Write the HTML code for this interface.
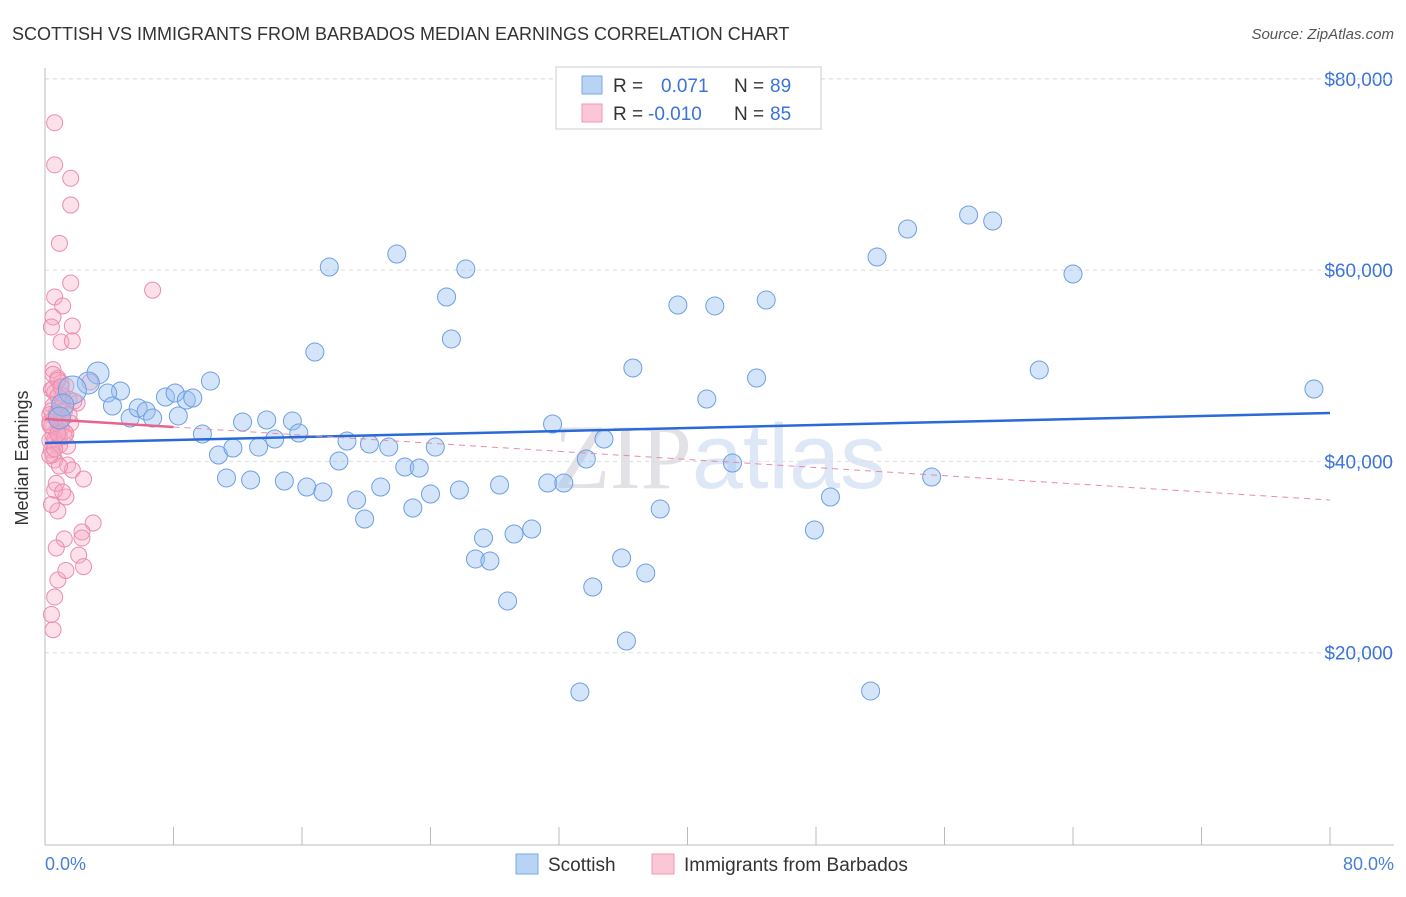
<!DOCTYPE html>
<html><head><meta charset="utf-8"><style>
body{margin:0;background:#fff;font-family:"Liberation Sans",sans-serif;}
svg text{font-family:"Liberation Sans",sans-serif;}
</style></head><body>
<svg id="chart" width="1406" height="892" viewBox="0 0 1406 892">
<text x="12" y="40" font-size="18" fill="#333">SCOTTISH VS IMMIGRANTS FROM BARBADOS MEDIAN EARNINGS CORRELATION CHART</text>
<text x="1394" y="39" font-size="15" fill="#555" font-style="italic" text-anchor="end">Source: ZipAtlas.com</text>
<text x="720" y="488" font-size="92" fill="#e8e8ec" text-anchor="middle"><tspan font-family="Liberation Serif" fill="#e2e2e6">ZIP</tspan><tspan fill="#dde7f5">atlas</tspan></text>
<g id="grid"></g>
<line x1="45" y1="68" x2="45" y2="845" stroke="#bbb"/>
<line x1="45" y1="845" x2="1394" y2="845" stroke="#bbb"/>
<g id="xticks"></g>
<text x="28" y="458" font-size="18" fill="#333" text-anchor="middle" transform="rotate(-90 28 458)">Median Earnings</text>
<text x="45" y="870" font-size="18" fill="#4a7fd6">0.0%</text>
<text x="1394" y="870" font-size="18" fill="#4a7fd6" text-anchor="end">80.0%</text>
<g id="pink"></g>
<g id="blue"></g>
<g id="trends"></g>
<g>
<rect x="556" y="67" width="265" height="62" fill="#fff" stroke="#ccc"/>
<rect x="582" y="76" width="20" height="18" fill="#b9d3f5" stroke="#7aa7e6"/>
<rect x="582" y="104" width="20" height="18" fill="#fbc7d7" stroke="#ee9ab5"/>
<text x="613" y="92" font-size="19" fill="#333">R = </text><text x="661" y="92" font-size="19" fill="#3a74d8">0.071</text>
<text x="734" y="92" font-size="19" fill="#333">N = </text><text x="770" y="92" font-size="19" fill="#3a74d8">89</text>
<text x="613" y="120" font-size="19" fill="#333">R = </text><text x="648" y="120" font-size="19" fill="#3a74d8">-0.010</text>
<text x="734" y="120" font-size="19" fill="#333">N = </text><text x="770" y="120" font-size="19" fill="#3a74d8">85</text>
</g>
<g>
<rect x="516" y="854" width="22" height="20" fill="#b9d3f5" stroke="#7aa7e6"/>
<text x="548" y="871" font-size="19" fill="#333">Scottish</text>
<rect x="652" y="854" width="22" height="20" fill="#fbc7d7" stroke="#ee9ab5"/>
<text x="684" y="871" font-size="19" fill="#333">Immigrants from Barbados</text>
</g>
</svg>
<script>
const yTicks=[20000,40000,60000,80000];
const yTickLabels=["$20,000","$40,000","$60,000","$80,000"];
const xTickPcts=[0,8,16,24,32,40,48,56,64,72,80];
const scotX=[3.3,2.7,1.7,1.1,0.9,4.7,3.9,4.2,5.3,5.8,6.3,6.7,7.5,8.1,8.8,9.2,8.3,10.3,9.8,10.8,11.3,11.7,12.3,12.8,13.3,13.8,14.3,14.9,15.4,15.8,16.3,16.8,17.3,17.7,18.3,18.8,19.4,19.9,20.2,20.9,21.4,21.9,22.4,22.9,23.3,24.0,24.3,25.0,25.3,25.8,26.2,26.8,27.3,27.7,28.3,28.8,29.2,30.3,31.3,31.6,32.3,33.3,33.7,34.1,34.8,35.9,36.2,36.6,37.4,38.3,39.4,41.2,41.7,42.8,44.3,44.9,47.9,48.9,51.4,51.8,53.7,55.2,57.5,59.0,61.9,64.0,79.0];
const scotY=[49240,48200,47460,45900,44540,47360,47150,45790,44540,45580,45270,44540,46730,47150,46420,46630,44750,48400,42860,40670,38270,41400,44120,38060,41500,44330,42340,37950,44220,42970,37320,51440,36800,60320,40040,42130,35960,33980,41820,37320,41500,61680,39410,35130,39310,36590,41500,57190,52800,37010,60110,29800,31990,29590,37530,25400,32410,32930,37740,43910,37740,15890,40250,26870,42340,29900,21220,49770,28330,35020,56350,46520,56250,39830,48720,56870,32830,36280,16000,61370,64300,38370,65760,65130,49560,59590,47570];
const barbX=[0.6,0.6,1.6,1.6,0.9,1.6,6.7,0.6,1.1,0.5,1.7,0.4,1.0,1.7,0.6,1.4,1.7,2.4,1.3,0.8,3.0,2.3,1.2,2.3,0.7,0.8,0.6,0.5,0.8,1.0,1.3,0.4,0.6,1.1,1.5,2.0,0.5,0.9,1.2,0.3,0.7,1.0,1.6,0.4,0.8,1.2,0.5,0.9,0.3,0.6,1.4,2.8,0.5,0.8,1.1,0.4,0.7,0.3,1.0,1.3,0.6,0.9,0.4,0.5,1.8,0.7,0.3,1.2,0.5,0.8,2.1,0.4,0.6,1.0,0.9,1.5,0.5,2.4,0.3,0.7,1.1,0.6,0.8,1.3,0.4];
const barbY=[75400,71000,69600,66800,62800,58650,57900,57190,56250,55100,54160,54050,52480,52600,40150,39620,39100,38160,36280,34810,33560,32620,31890,31990,30950,27600,25820,49600,48700,48200,47900,47500,47200,46900,46500,46100,45800,45500,45200,44900,44600,44300,44000,43700,43400,43100,42800,42500,42200,41900,41600,48300,47600,46800,46000,45300,44700,44100,43500,42900,42300,41700,41200,40700,46300,45000,43800,42600,49100,48500,30200,35500,37000,47800,39500,44900,22400,29000,40600,37700,36800,41300,42900,28600,24000];
const X0=45,X1=1330,Y0=844,YS=0.009565;
function xs(p){return X0+(X1-X0)*p/80;}
function ys(v){return Y0-v*YS;}
const NS="http://www.w3.org/2000/svg";
function mk(tag,attrs,parent){const e=document.createElementNS(NS,tag);for(const k in attrs)e.setAttribute(k,attrs[k]);parent.appendChild(e);return e;}
const grid=document.getElementById('grid');
yTicks.forEach((t,i)=>{
  const l=mk('line',{x1:45,x2:1394,y1:ys(t),y2:ys(t),stroke:'#ddd','stroke-dasharray':'4 4'},grid);
  
  
  const tx=mk('text',{x:1393,y:ys(t)+7,'font-size':19,fill:'#3a74d8','text-anchor':'end'},grid);
  tx.textContent=yTickLabels[i];
  
  
});
const topl=mk('line',{x1:45,x2:1394,y1:79,y2:79,stroke:'#ddd','stroke-dasharray':'4 4'},grid);


const xt=document.getElementById('xticks');
xTickPcts.forEach(p=>{
  const l=mk('line',{x1:xs(p),x2:xs(p),y1:827,y2:845,stroke:'#bbb'},xt);
  
  
});
const pg=document.getElementById('pink');
barbX.forEach((p,i)=>{
  const c=mk('circle',{cx:xs(p),cy:ys(barbY[i]),r:8,fill:'rgba(246,168,196,0.35)',stroke:'#ec8cad','stroke-width':1},pg);
  
  
});
const bg=document.getElementById('blue');
scotX.forEach((p,i)=>{
  const big=i<5;
  const c=mk('circle',{cx:xs(p),cy:ys(scotY[i]),r:big?(i==2?14:11):9,fill:'rgba(150,190,240,0.4)',stroke:'#6c9fe3','stroke-width':1},bg);
  
  
});
const tg=document.getElementById('trends');
const bl=mk('line',{x1:xs(0),y1:ys(41920),x2:xs(80),y2:ys(45060),stroke:'#2a6ad6','stroke-width':2.5},tg);


const pd=mk('line',{x1:xs(8),y1:ys(43600),x2:xs(80),y2:ys(35960),stroke:'#e88aa8','stroke-width':1,'stroke-dasharray':'6 5'},tg);


const ps=mk('line',{x1:xs(0),y1:ys(44430),x2:xs(8),y2:ys(43600),stroke:'#e8648c','stroke-width':2.5},tg);


</script>
</body></html>
